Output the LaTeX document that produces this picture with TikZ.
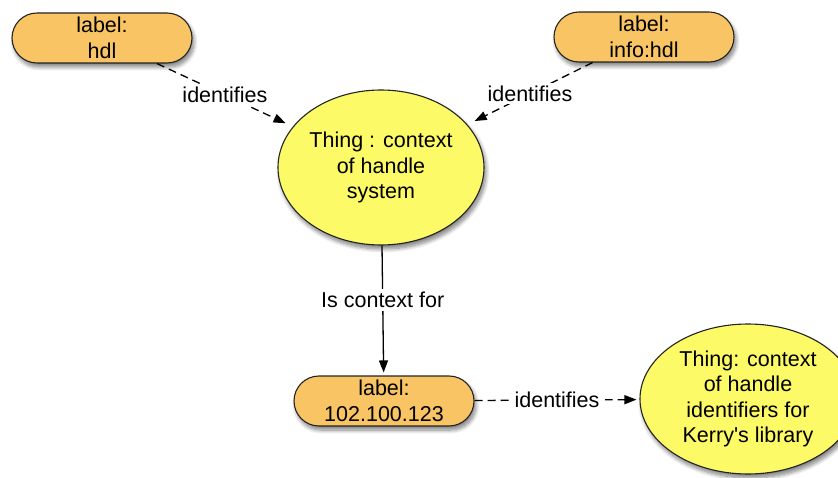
\documentclass[tikz,border=0pt]{standalone}
\usepackage{fontspec}
\setmainfont{Liberation Sans}
\usetikzlibrary{arrows.meta,shapes.geometric,shadows.blur}

\definecolor{pillfill}{RGB}{248,196,100}
\definecolor{thingfill}{RGB}{252,250,102}
\definecolor{outline}{RGB}{35,35,35}

\begin{document}
\begin{tikzpicture}[x=1pt,y=-1pt,
  font=\fontsize{21.5}{25.5}\selectfont,
  softshadow/.style={blur shadow={shadow xshift=2pt, shadow yshift=-4pt,
      shadow opacity=50, shadow blur radius=4pt, shadow blur steps=8}},
  labelpill/.style={draw=outline, line width=1.1pt, fill=pillfill,
      rounded corners=25pt, minimum width=180pt, minimum height=50pt,
      inner sep=0pt, align=center, softshadow},
  thing/.style={ellipse, draw=outline, line width=1.1pt, fill=thingfill,
      inner sep=0pt, align=center, softshadow},
  rel/.style={line width=1.3pt, draw=black, -{Triangle[length=12pt,width=9pt]}},
  dashedrel/.style={rel, dash pattern=on 8pt off 5pt},
  reltext/.style={fill=white, inner sep=3pt}
]
\useasboundingbox (0,0) rectangle (838,478);

% concepts
\node[thing, minimum width=206pt, minimum height=155pt] (sys) at (381,167.5)
  {Thing : context\\of handle\\system};
\node[thing, minimum width=216pt, minimum height=150pt] (lib) at (748,399)
  {Thing: context\\of handle\\identifiers for\\Kerry\textquotesingle s library};

% labels
\node[labelpill] (hdl) at (102,38) {label:\\hdl};
\node[labelpill] (info) at (644,37) {label:\\info:hdl};
\node[labelpill] (num) at (384,401) {label:\\102.100.123};

% relations
\draw[dashedrel, shorten >=8pt] (hdl) -- node[reltext] {identifies} (sys);
\draw[dashedrel, shorten >=8pt] (info) -- node[reltext] {identifies} (sys);
\draw[rel, shorten >=3pt] (sys) -- node[reltext, pos=0.42] {Is context for} (num);
\draw[dashedrel, shorten >=3pt] (num) -- node[reltext, inner xsep=6pt] {identifies} (lib);
\end{tikzpicture}
\end{document}
